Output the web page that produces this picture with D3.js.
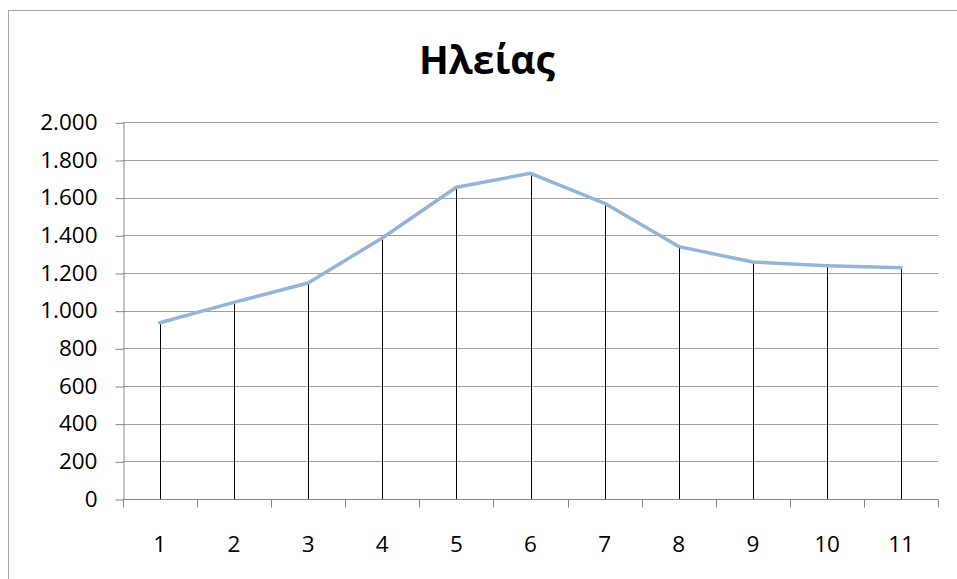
<!DOCTYPE html>
<html>
<head>
<meta charset="utf-8">
<script src="https://cdn.jsdelivr.net/npm/d3@7/dist/d3.min.js"></script>
<style>
  html, body { margin: 0; padding: 0; background: #fff; }
  svg { display: block; }
  text { font-family: "Open Sans", "Liberation Sans", sans-serif; fill: #000; }
</style>
</head>
<body>
<svg id="chart" width="957" height="579"></svg>
<script>
// Chart content
const chartTitle = "Ηλείας";
const categories = ["1", "2", "3", "4", "5", "6", "7", "8", "9", "10", "11"];
const values = [936, 1044, 1147, 1386, 1655, 1729, 1570, 1340, 1258, 1239, 1228];
const yTicks = [0, 200, 400, 600, 800, 1000, 1200, 1400, 1600, 1800, 2000];

const W = 957, H = 579;
const margin = { left: 122.7, right: W - 938.3, top: 122.3, bottom: H - 499 };
const labelSize = "22.5px";

const svg = d3.select("#chart");

// outer chart frame (extends past the right and bottom of the view)
svg.append("rect")
  .attr("x", 8.5).attr("y", 10.5)
  .attr("width", W + 20).attr("height", H + 20)
  .attr("fill", "none").attr("stroke", "#a6a6a6").attr("stroke-width", 1);

const x = d3.scaleBand()
  .domain(categories)
  .range([margin.left, W - margin.right])
  .paddingInner(0).paddingOuter(0);

const y = d3.scaleLinear()
  .domain([0, 2000])
  .range([H - margin.bottom, margin.top]);

const locale = d3.formatLocale({ decimal: ",", thousands: ".", grouping: [3], currency: ["", " €"] });
const fmt = locale.format(",d");

// horizontal gridlines
svg.append("g")
  .selectAll("line")
  .data(yTicks.filter(d => d > 0))
  .join("line")
  .attr("x1", margin.left).attr("x2", W - margin.right)
  .attr("y1", d => Math.round(y(d)) + 0.5).attr("y2", d => Math.round(y(d)) + 0.5)
  .attr("stroke", "#9f9f9f").attr("stroke-width", 1);

// y axis
const yAxis = svg.append("g")
  .attr("transform", `translate(${Math.round(margin.left) + 0.5},0)`)
  .call(d3.axisLeft(y).tickValues(yTicks).tickFormat(fmt).tickSize(8).tickSizeOuter(0).tickPadding(18));
yAxis.selectAll("line").attr("stroke", "#868686").attr("transform", "translate(0,0.5)");
yAxis.select(".domain").attr("stroke", "#868686");
yAxis.selectAll("text")
  .style("font-family", "'Open Sans', 'Liberation Sans', sans-serif")
  .style("font-size", labelSize).attr("fill", "#000");

// x axis with tick marks at category boundaries
const xAxisG = svg.append("g")
  .attr("transform", `translate(0,${Math.round(y(0)) + 0.5})`);
xAxisG.append("line")
  .attr("x1", margin.left).attr("x2", W - margin.right)
  .attr("stroke", "#868686");
const bounds = categories.map(c => x(c)).concat([x(categories[categories.length - 1]) + x.bandwidth()]);
xAxisG.selectAll("line.tick")
  .data(bounds)
  .join("line").attr("class", "tick")
  .attr("x1", d => Math.round(d) + 0.5).attr("x2", d => Math.round(d) + 0.5)
  .attr("y1", 0).attr("y2", 8)
  .attr("stroke", "#868686");
xAxisG.selectAll("text")
  .data(categories)
  .join("text")
  .attr("x", d => x(d) + x.bandwidth() / 2)
  .attr("y", 52)
  .attr("text-anchor", "middle")
  .style("font-size", labelSize)
  .text(d => d);

// drop lines from each point down to the category axis
svg.append("g")
  .selectAll("line")
  .data(values)
  .join("line")
  .attr("x1", (d, i) => Math.round(x(categories[i]) + x.bandwidth() / 2) + 0.5)
  .attr("x2", (d, i) => Math.round(x(categories[i]) + x.bandwidth() / 2) + 0.5)
  .attr("y1", d => y(d)).attr("y2", y(0))
  .attr("stroke", "#000").attr("stroke-width", 1);

// series line
const line = d3.line()
  .x((d, i) => x(categories[i]) + x.bandwidth() / 2)
  .y(d => y(d));
svg.append("path")
  .datum(values)
  .attr("d", line)
  .attr("fill", "none")
  .attr("stroke", "#94b5d8")
  .attr("stroke-width", 3.5)
  .attr("stroke-linejoin", "round")
  .attr("stroke-linecap", "round");

// title
svg.append("text")
  .attr("x", 487).attr("y", 74)
  .attr("text-anchor", "middle")
  .style("font-size", "39px").style("font-weight", "bold")
  .text(chartTitle);
</script>
</body>
</html>
